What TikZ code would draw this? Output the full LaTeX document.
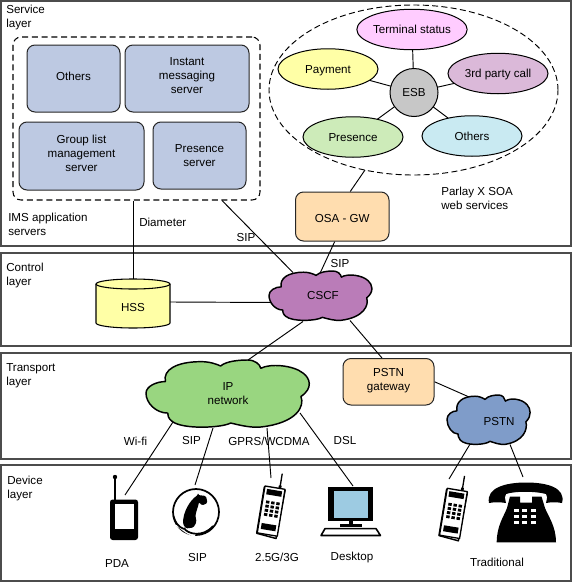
\documentclass[tikz,border=0pt]{standalone}
\usepackage{fontspec}
\setmainfont{Liberation Sans}
\usetikzlibrary{shapes.geometric}
\pgfdeclarelayer{lines}
\pgfsetlayers{lines,main}
\def\PX{0.75pt}
\newcommand\liftup[1]{\\[#1]\mbox{}}
\newcommand\pushdown[1]{\mbox{}\\[#1]}
\newcommand\drawcloud[5]{%
  \path[draw=black,line width=1.1pt,line join=round,fill=#5,shift={(#1,#2)},xscale=#3/493,yscale=#4/205]
  (0,100) .. controls (0,80) and (30,65) .. (58,65)
  .. controls (50,30) and (90,5) .. (165,5)
  .. controls (190,5) and (210,12) .. (223,18)
  .. controls (240,3) and (280,0) .. (303,0)
  .. controls (325,0) and (340,12) .. (343,25)
  .. controls (370,10) and (440,15) .. (470,40)
  .. controls (490,55) and (500,85) .. (463,110)
  .. controls (475,140) and (450,190) .. (343,202)
  .. controls (310,205) and (275,195) .. (253,190)
  .. controls (225,205) and (110,210) .. (78,185)
  .. controls (65,175) and (65,165) .. (65,160)
  .. controls (30,160) and (0,130) .. (0,100) -- cycle;}
\newcommand\mobileicon[2]{%
  \begin{scope}[shift={(#1,#2)},rotate=-9.4]
    \draw[black,line width=1pt] (15,0) -- (15,-15);
    \fill[black] (13.6,0) rectangle (16.4,-3);
    \draw[black,line width=1.1pt,fill=white,line join=round] (-.5,1) -- (-.5,48) -- (19.5,50) -- (20.5,1) -- cycle;
    \draw[black,line width=1pt,fill=white,line join=round] (0,0) rectangle (20.3,47.5);
    \fill[black] (2.5,2.5) rectangle (17.8,8);
    \fill[black] (2.8,37) rectangle (17.6,43);
    \foreach \v in {14,18.2,22.4,26.6}{\foreach \u in {3.6,8.8,14}{\fill[black] (\u,\v) rectangle ++(3.4,2.8);}}
  \end{scope}}
\definecolor{boxblue}{HTML}{BDC9E2}
\definecolor{boxorange}{HTML}{FFDDAF}
\definecolor{hssyellow}{HTML}{FFFFA6}
\definecolor{termpink}{HTML}{FFCCFF}
\definecolor{thirdmauve}{HTML}{DBB9D9}
\definecolor{presgreen}{HTML}{CDEBB9}
\definecolor{othcyan}{HTML}{C9EAF2}
\definecolor{cscfpurple}{HTML}{BA7CB8}
\definecolor{ipgreen}{HTML}{99D680}
\definecolor{pstnblue}{HTML}{7F9CC9}
\definecolor{screenblue}{HTML}{9DCBE2}
\tikzset{
  txt/.style={font=\fontsize{8.7}{10.5}\selectfont,text=black,align=center},
  lab/.style={txt,inner sep=0pt,align=left,anchor=west},
  clab/.style={txt,inner sep=0pt},
  layerbox/.style={draw=black!70,line width=.8pt,inner sep=0pt,minimum width=570*\PX},
  bluebox/.style={txt,draw=black!85,line width=.75pt,fill=boxblue,rounded corners=6pt,inner sep=0pt,minimum width=#1*\PX},
  orangebox/.style={txt,draw=black!85,line width=.75pt,fill=boxorange,rounded corners=6pt,inner sep=0pt},
  svc/.style={txt,ellipse,draw=black,line width=.75pt,fill=#1,inner sep=0pt,outer sep=0pt,minimum width=100*\PX,minimum height=40.5*\PX,text height=6.6pt,text depth=0pt},
  cloudbody/.style={txt,ellipse,inner sep=0pt,outer sep=0pt},
  iconbox/.style={inner sep=0pt,outer sep=0pt,anchor=north},
  conn/.style={draw=black,line width=.7pt},
  dashedge/.style={draw=black,line width=.7pt,dash pattern=on 4.5pt off 2.5pt}
}
\begin{document}
\begin{tikzpicture}[x=0.75pt,y=-0.75pt]
\useasboundingbox (0,0) rectangle (572,582);
% layers
\begin{pgfonlayer}{lines}
\node[layerbox,minimum height=245*\PX] (service) at (286,123.5) {};
\node[layerbox,minimum height=93*\PX] (control) at (286,299.5) {};
\node[layerbox,minimum height=106*\PX] (transport) at (286,406) {};
\node[layerbox,minimum height=116*\PX] (device) at (286,523) {};
\end{pgfonlayer}
% IMS
\node[draw=black,line width=.8pt,dash pattern=on 4.5pt off 2.8pt,rounded corners=6pt,inner sep=0pt,minimum width=247*\PX,minimum height=163*\PX] (ims) at (136.5,118.5) {};
\node[bluebox=93,minimum height=67*\PX] (others1) at (73.5,78.5) {Others\liftup{-7.5pt}};
\node[bluebox=124,minimum height=67*\PX] (instant) at (187,78.5) {Instant\\messaging\\server\liftup{-6pt}};
\node[bluebox=125,minimum height=68*\PX] (group) at (81.5,156) {Group list\\management\\server\liftup{-6pt}};
\node[bluebox=93,minimum height=67*\PX] (presence1) at (199.5,155.5) {Presence\\server};
% SOA
\node[ellipse,dashedge,inner sep=0pt,outer sep=0pt,minimum width=289*\PX,minimum height=170*\PX] (soa) at (413.5,90) {};
\node[svc=termpink] (terminal) at (412,29.5) {Terminal status};
\node[svc=hssyellow] (payment) at (328,69) {Payment};
\node[svc=thirdmauve] (third) at (498,73.5) {3rd party call};
\node[svc=presgreen] (presence2) at (353,137) {Presence};
\node[svc=othcyan] (others2) at (472,136) {Others};
\node[txt,circle,draw=black,line width=.75pt,fill=black!22,inner sep=0pt,outer sep=0pt,minimum size=48*\PX] (esb) at (414,92.5) {ESB};
% OSA / gateway
\node[orangebox,minimum width=93.5*\PX,minimum height=49*\PX,text height=9pt,text depth=0pt] (osa) at (342.25,216.5) {OSA - GW};
\node[orangebox,minimum width=91*\PX,minimum height=46.5*\PX] (gw) at (388.5,381.75) {\pushdown{-5.4pt}PSTN\\gateway};
% HSS
\path[draw=black,line width=.8pt,fill=hssyellow] (96,284) -- (96,323) arc[start angle=180,end angle=360,x radius=37,y radius=-5] -- (170,284) arc[start angle=0,end angle=180,x radius=37,y radius=-5] -- cycle;
\path[draw=black,line width=.8pt,fill=hssyellow] (96,284) arc[start angle=180,end angle=360,x radius=37,y radius=-5];
\node[txt,inner sep=0pt,outer sep=0pt,minimum width=74*\PX,minimum height=41*\PX] (hss) at (133,307.5) {HSS};
% clouds
\drawcloud{269}{271}{104}{50}{cscfpurple}
\node[cloudbody,minimum width=70*\PX,minimum height=30*\PX,text height=6.6pt,text depth=0pt] (cscf) at (323,295.5) {CSCF};
\drawcloud{146}{360}{165}{68}{ipgreen}
\node[cloudbody,minimum width=100*\PX,minimum height=40*\PX] (ip) at (228,394) {IP\\network};
\drawcloud{447}{395}{84}{50}{pstnblue}
\node[cloudbody,minimum width=50*\PX,minimum height=28*\PX] (pstn) at (499,421.5) {PSTN};
% device icon anchors
\node[iconbox,minimum width=28*\PX,minimum height=45*\PX] (pda) at (125,495) {};
\node[iconbox,minimum width=46*\PX,minimum height=52*\PX] (sipphone) at (195,485) {};
\node[iconbox,minimum width=28*\PX,minimum height=60*\PX] (mobone) at (271,478) {};
\node[iconbox,minimum width=50*\PX,minimum height=50*\PX] (desktop) at (353,486) {};
\node[iconbox,minimum width=28*\PX,minimum height=60*\PX] (mobtwo) at (449,479) {};
\node[iconbox,minimum width=74*\PX,minimum height=65*\PX] (telephone) at (523,477) {};
% PDA icon
\draw[black,line width=1.5pt] (115,478) -- (115,500);
\fill[black] (115,477) circle[radius=2.2];
\fill[black,rounded corners=2pt] (110,499.5) -- (138,499.5) -- (138,540) -- (110,540) -- cycle;
\fill[white] (115,504) rectangle (134,529);
% SIP phone icon
\draw[black,line width=1.3pt] (196,512) circle[radius=23];
\path[fill=white] (175,525) -- (186,533) -- (194,537) -- (200,528) -- cycle;
\draw[black,line width=1.3pt] (173.5,516) .. controls (175,522) and (178,527) .. (184,529);
\draw[black,line width=1.3pt] (184,528) .. controls (187,534) and (203,538) .. (213,526);
\fill[black,rounded corners=1pt] (198,495) -- (206,496) -- (207.5,503) -- (202,505.5) -- (199,502) .. controls (198,507) and (196,512) .. (195.5,516) -- (196.5,522) -- (193.5,527.5) -- (186,528.5) -- (183,524) .. controls (183,512) and (190,500) .. (198,495) -- cycle;
% mobile icons
\mobileicon{265}{486}
\mobileicon{447.3}{488.3}
% desktop icon
\fill[black] (328.3,486.7) rectangle (372.7,521);
\fill[screenblue] (334,490.7) rectangle (367.7,517.7);
\fill[black] (349.3,521) rectangle (353.3,525);
\fill[black] (340,524) rectangle (361.7,527.3);
\draw[black,line width=1.2pt,fill=white,line join=round] (325,528.6) -- (376,528.6) -- (380.5,535.5) -- (321,535.5) -- cycle;
% telephone icon
\fill[black] (489,503) .. controls (486,488) and (505,482.5) .. (526,482.5) .. controls (548,482.5) and (566,488) .. (562,503) .. controls (557,502) and (551,502) .. (546,503) .. controls (547,498) and (548,496) .. (546,494) .. controls (535,491) and (515,491) .. (506,494) .. controls (504,496) and (505,498) .. (506,503) .. controls (500,502) and (494,502) .. (489,503) -- cycle;
\fill[black] (510,496.5) -- (520,496.5) -- (520,502.5) -- (532,502.5) -- (532,496.5) -- (541.5,496.5) -- (545,508) .. controls (548,516) and (556,526) .. (556,542.3) -- (496.7,542.3) .. controls (496.7,526) and (504,516) .. (507,508) -- cycle;
\foreach \ky in {508.5,514.5,520.5}{\foreach \kx in {513.5,521.8,530.8}{\fill[white] (\kx,\ky) rectangle ++(5,3.4);}}
% connectors (behind)
\begin{pgfonlayer}{lines}
\draw[conn] (hss.north) -- (hss.north |- ims.south);
\draw[conn] ([shift={(85.5,0)}]ims.south) -- ([shift={(-30,-23)}]cscf.center);
\draw[conn] ([shift={(-7.5,0)}]osa.south) -- ([shift={(-4,-20)}]cscf.center);
\draw[conn] ([shift={(8,0)}]osa.north) -- ([shift={(-48.5,80)}]soa.center);
\draw[conn] (hss.east |- 0,302) -- ([shift={(-45,7)}]cscf.center);
\draw[conn] ([shift={(-20,26)}]cscf.center) -- ([shift={(20,-34)}]ip.center);
\draw[conn] ([shift={(27,25)}]cscf.center) -- ([shift={(-6.5,0)}]gw.north);
\draw[conn] (gw.east) -- ([shift={(-31,-25)}]pstn.center);
\draw[conn] ([shift={(-55,28)}]ip.center) -- (pda.north);
\draw[conn] ([shift={(-15,34)}]ip.center) -- (sipphone.north);
\draw[conn] ([shift={(39,34)}]ip.center) -- (mobone.north);
\draw[conn] ([shift={(72,19)}]ip.center) -- (desktop.north);
\draw[conn] ([shift={(-28,21)}]pstn.center) -- (mobtwo.north);
\draw[conn] ([shift={(11,23)}]pstn.center) -- (telephone.north);
\draw[conn] (esb) -- (terminal);
\draw[conn] (esb) -- (payment);
\draw[conn] (esb) -- (third);
\draw[conn] (esb) -- (presence2);
\draw[conn] (esb) -- (others2);
\end{pgfonlayer}
% labels
\node[lab] (lserv) at (6,17) {Service\\layer};
\node[lab] (lims) at (8,224) {IMS application\\servers};
\node[lab] (ldiam) at (139,222.5) {Diameter};
\node[clab] (lsipa) at (246,238) {SIP};
\node[clab] (lsipb) at (340,264) {SIP};
\node[lab] (lparlay) at (441,198) {Parlay X SOA\\web services};
\node[lab] (lctrl) at (6,275) {Control\\layer};
\node[lab] (ltrans) at (6,376) {Transport\\layer};
\node[lab] (ldev) at (7,488) {Device\\layer};
\node[clab] (lwifi) at (135.5,441) {Wi-fi};
\node[clab] (lsipc) at (191.5,441) {SIP};
\node[clab] (lgprs) at (269,441) {GPRS/WCDMA};
\node[clab] (ldsl) at (345,441) {DSL};
\node[clab] (lpda) at (117,564) {PDA};
\node[clab] (lsipd) at (197.5,557) {SIP};
\node[clab] (lmob) at (277,557) {2.5G/3G};
\node[clab] (ldesk) at (352,557) {Desktop};
\node[clab] (ltrad) at (497,562.5) {Traditional};
\end{tikzpicture}
\end{document}
